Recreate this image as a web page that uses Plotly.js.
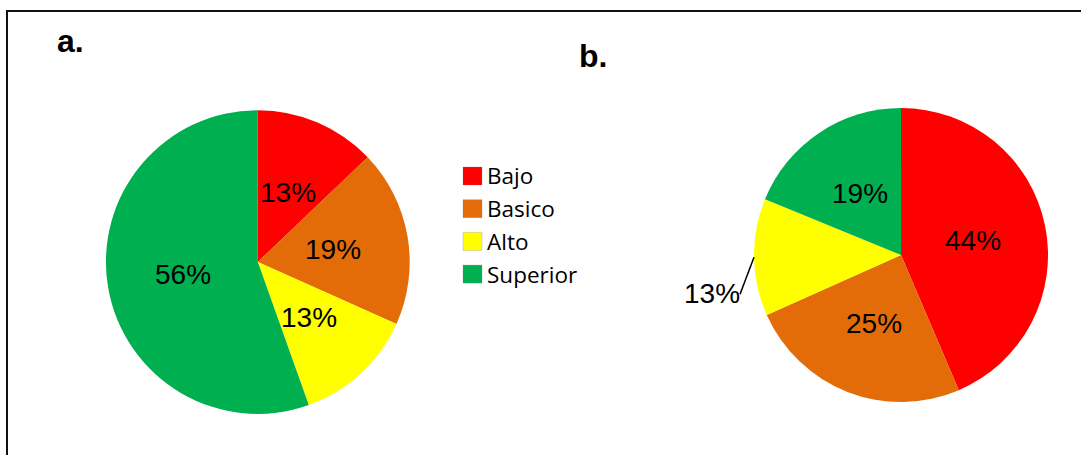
<!DOCTYPE html>
<html>
<head>
<meta charset="utf-8">
<script src="https://cdn.plot.ly/plotly-3.0.1.min.js"></script>
<style>html,body{margin:0;padding:0;background:#fff;}#chart{width:1081px;height:455px;}</style>
</head>
<body>
<div id="chart"></div>
<script>
// Performance levels and their share (%) in each group
const levels = ['Bajo', 'Basico', 'Alto', 'Superior'];
const levelColors = ['#FF0000', '#E36C09', '#FFFF00', '#00B050'];
const valuesA = [13, 19, 13, 56];
const valuesB = [44, 25, 13, 19];
const panelTitles = ['a.', 'b.'];

const W = 1081, H = 455;
const labelFont = {family: 'Liberation Sans, Arial, sans-serif', size: 28, color: '#000'};
const domainA = {x: [0.098, 0.379], y: [0.0901, 0.7582]};
const domainB = {x: [0.6975, 0.9695], y: [0.1143, 0.7648]};
// slice of panel b whose label sits outside the pie with a leader line
const outsideIdxB = 2;

function pieTrace(values, domain) {
  return {
    type: 'pie',
    labels: levels,
    values: values,
    sort: false,
    direction: 'clockwise',
    rotation: 0,
    domain: domain,
    marker: {colors: levelColors, line: {width: 0}},
    textinfo: 'none',
    textposition: 'none',
    showlegend: false,
    hoverinfo: 'label+value',
    automargin: false
  };
}

const data = [pieTrace(valuesA, domainA), pieTrace(valuesB, domainB)];

// point at fraction f of the radius along the middle of slice i, in paper coordinates
function slicePoint(values, domain, i, f) {
  const total = values.reduce((a, b) => a + b, 0);
  const before = values.slice(0, i).reduce((a, b) => a + b, 0);
  const ang = 2 * Math.PI * (before + values[i] / 2) / total;
  const wPx = (domain.x[1] - domain.x[0]) * W;
  const hPx = (domain.y[1] - domain.y[0]) * H;
  const r = Math.min(wPx, hPx) / 2 * f;
  const cx = (domain.x[0] + domain.x[1]) / 2 * W;
  const cy = (domain.y[0] + domain.y[1]) / 2 * H;
  return {x: (cx + r * Math.sin(ang)) / W, y: (cy + r * Math.cos(ang)) / H};
}

const annotations = [
  {text: '<b>' + panelTitles[0] + '</b>', xref: 'paper', yref: 'paper', x: 0.0648, y: 0.909, xanchor: 'center', yanchor: 'middle', showarrow: false, font: {family: 'Liberation Sans, Arial, sans-serif', size: 32, color: '#000'}},
  {text: '<b>' + panelTitles[1] + '</b>', xref: 'paper', yref: 'paper', x: 0.5485, y: 0.877, xanchor: 'center', yanchor: 'middle', showarrow: false, font: {family: 'Liberation Sans, Arial, sans-serif', size: 32, color: '#000'}}
];
const shapes = [
  // frame: top and left edges visible, right/bottom run off the page
  {type: 'rect', xref: 'paper', yref: 'paper', x0: 7 / W, x1: 1.05, y0: -0.05, y1: 1 - 11 / H, line: {color: '#111', width: 2}, fillcolor: 'rgba(0,0,0,0)'}
];

// percentage labels halfway out along each slice
[[valuesA, domainA], [valuesB, domainB]].forEach(([vals, dom], k) => {
  vals.forEach((v, i) => {
    if (k === 1 && i === outsideIdxB) return;
    const p = slicePoint(vals, dom, i, 0.5);
    annotations.push({text: v + '%', xref: 'paper', yref: 'paper', x: p.x, y: p.y,
      xanchor: 'center', yanchor: 'middle', showarrow: false, font: labelFont});
  });
});

// outside label with leader line to the rim
const rim = slicePoint(valuesB, domainB, outsideIdxB, 1);
shapes.push({type: 'line', xref: 'paper', yref: 'paper',
  x0: rim.x, y0: rim.y, x1: rim.x - 14 / W, y1: rim.y - 37 / H,
  line: {color: '#000', width: 1.5}});
annotations.push({text: valuesB[outsideIdxB] + '%', xref: 'paper', yref: 'paper',
  x: rim.x - 42 / W, y: rim.y - 36 / H, xanchor: 'center', yanchor: 'middle',
  showarrow: false, font: labelFont});

// legend: coloured squares with level names
const legX0 = 463, legSize = 19, legTop = 176, legStep = 32.7;
levels.forEach((name, i) => {
  const cy = legTop + i * legStep;
  shapes.push({type: 'rect', xref: 'paper', yref: 'paper',
    x0: legX0 / W, x1: (legX0 + legSize) / W,
    y0: 1 - (cy + 9) / H, y1: 1 - (cy - 9) / H,
    fillcolor: levelColors[i], line: {color: 'rgba(120,120,120,0.5)', width: 0.5}});
  annotations.push({text: name, xref: 'paper', yref: 'paper', x: 485 / W, y: 1 - cy / H,
    xanchor: 'left', yanchor: 'middle', showarrow: false,
    font: {family: 'Open Sans, Noto Sans, sans-serif', size: 22.5, color: '#000'}});
});

const layout = {
  width: W,
  height: H,
  margin: {l: 0, r: 0, t: 0, b: 0},
  paper_bgcolor: '#fff',
  showlegend: false,
  annotations: annotations,
  shapes: shapes
};

Plotly.newPlot('chart', data, layout, {displayModeBar: false, staticPlot: true});
</script>
</body>
</html>
